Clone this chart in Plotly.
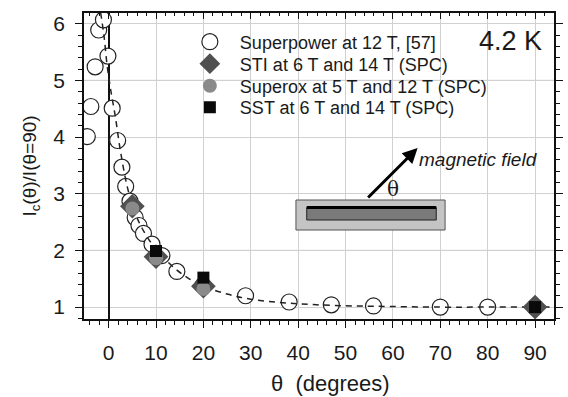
import plotly.graph_objects as go

# ---- data ----
sp_theta = [-4.5, -3.75, -2.85, -2.1, -1.1, -0.15, 0.75, 1.9, 2.8, 3.6, 4.5, 5.6, 6.4, 7.35,
            9.15, 11.25, 14.4, 19.9, 28.9, 38.1, 47.0, 55.9, 70.0, 80.0, 90.0]
sp_ratio = [4.01, 4.54, 5.24, 5.89, 6.07, 5.43, 4.51, 3.94, 3.47, 3.13, 2.87, 2.58, 2.44, 2.30,
            2.11, 1.91, 1.63, 1.38, 1.20, 1.09, 1.04, 1.02, 1.00, 1.00, 1.00]

fit_theta = [-1.7, -1.0, -0.3, 0.5, 1.4, 2.5, 4.0, 5.5, 7.0, 9.0, 11.0, 14.0, 17.0, 20.0,
             25.0, 30.0, 38.0, 47.0, 56.0, 70.0, 80.0, 90.0, 95.0]
fit_ratio = [6.2, 5.8, 5.25, 4.8, 4.37, 3.75, 3.1, 2.68, 2.4, 2.13, 1.93, 1.68, 1.5, 1.37,
             1.23, 1.14, 1.07, 1.03, 1.015, 1.0, 1.0, 1.0, 1.0]

sti_theta = [5, 10, 20, 90]
sti_ratio = [2.78, 1.89, 1.37, 1.0]

sox_theta = [5, 10, 20]
sox_ratio = [2.74, 1.86, 1.32]

sst_theta = [10, 20, 90]
sst_ratio = [1.99, 1.52, 1.0]

x_ticks = [0, 10, 20, 30, 40, 50, 60, 70, 80, 90]
y_ticks = [1, 2, 3, 4, 5, 6]

FONT = "Arial, Liberation Sans, sans-serif"
TXT = "#1a1a1a"

# plot-area pixel geometry (for paper-coordinate decorations)
L, R, T, B = 84, 563, 13, 319
def px(x):
    return (x - L) / (R - L)
def py(y):
    return (B - y) / (B - T)

fig = go.Figure()

fig.add_trace(go.Scatter(x=sp_theta, y=sp_ratio, mode="markers", name="Superpower at 12 T, [57]",
                         legend="legend",
                         marker=dict(symbol="circle", size=16, color="white",
                                     line=dict(color="#222", width=1.2))))
fig.add_trace(go.Scatter(x=fit_theta, y=fit_ratio, mode="lines", showlegend=False,
                         line=dict(color="#222", width=1.5, dash="6px,5px", shape="spline")))
fig.add_trace(go.Scatter(x=sti_theta, y=sti_ratio, mode="markers", name="STI at 6 T and 14 T (SPC)",
                         legend="legend2",
                         marker=dict(symbol="diamond", size=19, color="#505050",
                                     line=dict(width=0))))
fig.add_trace(go.Scatter(x=sox_theta, y=sox_ratio, mode="markers", name="Superox at 5 T and 12 T (SPC)",
                         legend="legend3",
                         marker=dict(symbol="circle", size=14, color="#8a8a8a",
                                     line=dict(width=0))))
fig.add_trace(go.Scatter(x=sst_theta, y=sst_ratio, mode="markers", name="SST at 6 T and 14 T (SPC)",
                         legend="legend4",
                         marker=dict(symbol="square", size=12, color="#0a0a0a",
                                     line=dict(width=0))))
# dummy trace for the top axis
fig.add_trace(go.Scatter(x=[None], y=[None], xaxis="x2", yaxis="y", showlegend=False, hoverinfo="skip"))

leg_x = px(181.7)
row_y = [42, 64, 86, 107.5]
def leg(yc):
    return dict(x=leg_x, y=py(yc), xanchor="left", yanchor="middle",
                bgcolor="rgba(0,0,0,0)", font=dict(size=18, color=TXT),
                itemwidth=50, itemsizing="trace", borderwidth=0)

fig.update_layout(
    width=568, height=397,
    margin=dict(l=L, r=568 - R, t=T, b=397 - B),
    paper_bgcolor="white", plot_bgcolor="white",
    font=dict(family=FONT, color=TXT),
    showlegend=True,
    legend=leg(row_y[0]), legend2=leg(row_y[1]), legend3=leg(row_y[2]), legend4=leg(row_y[3]),
    xaxis=dict(range=[-5.2, 94.0], tickvals=x_ticks, ticktext=[str(v) for v in x_ticks],
               showgrid=True, gridcolor="#d0d0d0", gridwidth=1,
               zeroline=True, zerolinecolor="#111", zerolinewidth=1.5,
               showline=True, linecolor="#111", linewidth=1.5, mirror=True,
               ticks="outside", ticklen=7, tickwidth=1.2, tickcolor="#111",
               minor=dict(dtick=2, tick0=0, ticks="outside", ticklen=4, tickcolor="#111", showgrid=False),
               tickfont=dict(size=21, color=TXT), ticklabelstandoff=7),
    xaxis2=dict(overlaying="x", matches="x", side="top", showticklabels=False, showgrid=False,
                zeroline=False, tickvals=x_ticks, ticks="inside", ticklen=6, tickwidth=1.2,
                tickcolor="#111",
                minor=dict(dtick=2, tick0=0, ticks="inside", ticklen=3, tickcolor="#111")),
    yaxis=dict(range=[0.79, 6.19], tickvals=y_ticks, ticktext=[str(v) for v in y_ticks],
               showgrid=True, gridcolor="#d0d0d0", gridwidth=1, zeroline=False,
               showline=True, linecolor="#111", linewidth=1.5, mirror="ticks",
               ticks="outside", ticklen=7, tickwidth=1.2, tickcolor="#111",
               minor=dict(dtick=0.2, tick0=0, ticks="outside", ticklen=4, tickcolor="#111", showgrid=False),
               tickfont=dict(size=21, color=TXT), ticklabelstandoff=6,
               title=dict(text="I<sub>c</sub>(θ)/I(θ=90)", font=dict(size=19, color=TXT), standoff=12)),
)

# x-axis title (placed slightly right of centre, as in the original)
fig.add_annotation(xref="paper", yref="paper", x=px(335), y=py(383), yanchor="middle",
                   text="θ  (degrees)", showarrow=False, font=dict(size=22, color=TXT))

# darker horizontal reference lines
for yv in [2, 5]:
    fig.add_shape(type="line", xref="paper", yref="y", x0=0, x1=1, y0=yv, y1=yv,
                  line=dict(color="#8c8c8c", width=1), layer="below")

# inset: tape sketch
fig.add_shape(type="rect", xref="paper", yref="paper",
              x0=px(300), x1=px(452), y0=py(230), y1=py(200),
              fillcolor="#c4c4c4", line=dict(color="#555", width=1))
fig.add_shape(type="rect", xref="paper", yref="paper",
              x0=px(311), x1=px(443), y0=py(220), y1=py(207.5),
              fillcolor="#7a7a7a", line=dict(color="#222", width=1))
fig.add_shape(type="line", xref="paper", yref="paper",
              x0=px(311), x1=px(443), y0=py(207.5), y1=py(207.5),
              line=dict(color="#000", width=3))
fig.add_annotation(xref="paper", yref="paper", axref="pixel", ayref="pixel",
                   x=px(424), y=py(148), ax=-51, ay=51,
                   showarrow=True, arrowhead=2, arrowsize=1, arrowwidth=3, arrowcolor="#000", text="")
fig.add_annotation(xref="paper", yref="paper", x=px(407), y=py(189),
                   text="θ", showarrow=False, font=dict(size=20, color=TXT, family="DejaVu Serif, serif"))
fig.add_annotation(xref="paper", yref="paper", x=px(423), y=py(159), yanchor="middle",
                   xanchor="left", text="<i>magnetic field</i>", showarrow=False,
                   font=dict(size=19, color=TXT))
fig.add_annotation(xref="paper", yref="paper", x=px(553), y=py(41),
                   xanchor="right", yanchor="middle", text="4.2 K", showarrow=False,
                   font=dict(size=27, color=TXT))

fig.write_html("out.html")
